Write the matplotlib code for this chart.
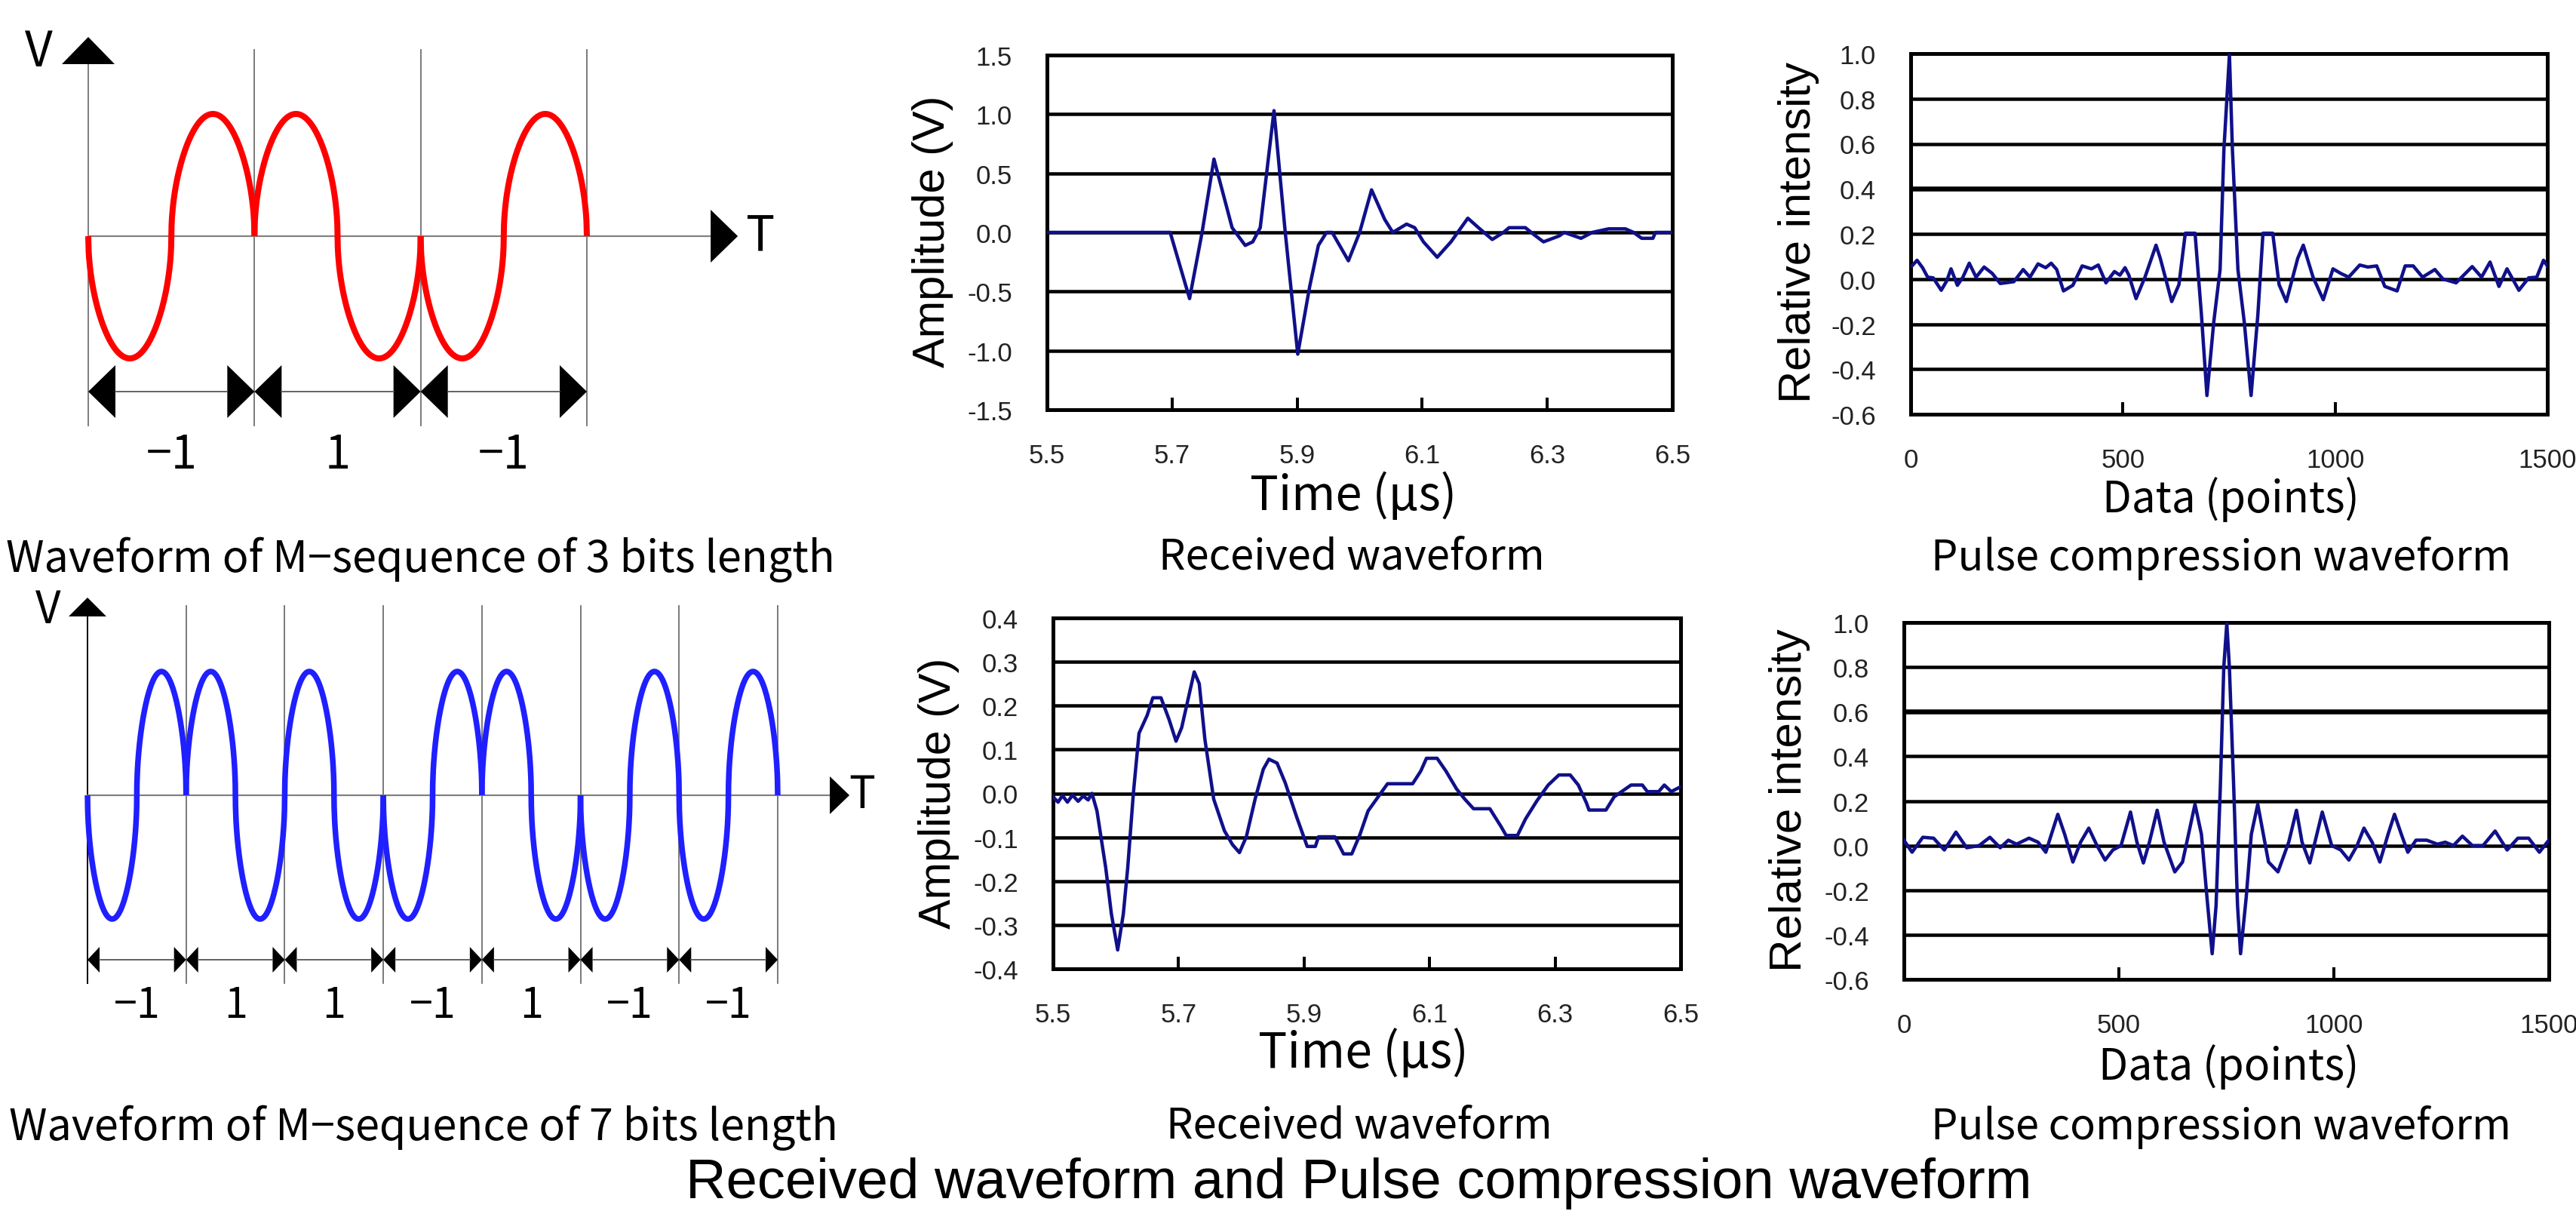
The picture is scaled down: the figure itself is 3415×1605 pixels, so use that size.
import numpy as np
import matplotlib
matplotlib.use("Agg")
import matplotlib.pyplot as plt
from matplotlib.patches import Polygon
from matplotlib.ticker import FixedLocator, FixedFormatter

# ---------------- data ----------------
bits3 = [-1, 1, -1]
bits7 = [-1, 1, 1, -1, 1, -1, -1]

# Received waveform, 3-bit (time in us, amplitude in V)
rx3_t = [5.50, 5.697, 5.728, 5.748, 5.767, 5.796, 5.817, 5.829, 5.841, 5.863, 5.881,
         5.901, 5.920, 5.934, 5.947, 5.956, 5.982, 6.000, 6.019, 6.040, 6.053, 6.075,
         6.088, 6.102, 6.124, 6.146, 6.173, 6.190, 6.212, 6.230, 6.239, 6.265, 6.279,
         6.294, 6.319, 6.327, 6.354, 6.372, 6.398, 6.425, 6.438, 6.451, 6.469, 6.473, 6.50]
rx3_v = [0.0, 0.0, -0.56, 0.0, 0.62, 0.04, -0.11, -0.08, 0.04, 1.03, 0.0,
         -1.03, -0.46, -0.11, 0.0, 0.0, -0.24, 0.0, 0.36, 0.11, 0.0, 0.07,
         0.04, -0.08, -0.21, -0.08, 0.12, 0.04, -0.06, 0.0, 0.04, 0.04, -0.02,
         -0.08, -0.03, 0.0, -0.05, 0.0, 0.03, 0.03, 0.0, -0.05, -0.05, 0.0, 0.0]

# Received waveform, 7-bit
rx7_t = [5.500, 5.508, 5.515, 5.523, 5.531, 5.540, 5.548, 5.556, 5.562, 5.570, 5.584,
         5.593, 5.603, 5.612, 5.619, 5.628, 5.637, 5.650, 5.659, 5.672, 5.685, 5.696,
         5.705, 5.725, 5.733, 5.742, 5.756, 5.773, 5.786, 5.797, 5.808, 5.822, 5.835,
         5.844, 5.857, 5.870, 5.888, 5.905, 5.918, 5.923, 5.949, 5.963, 5.976, 5.989,
         6.002, 6.020, 6.033, 6.073, 6.086, 6.095, 6.112, 6.126, 6.143, 6.156, 6.170,
         6.196, 6.214, 6.222, 6.240, 6.253, 6.271, 6.289, 6.306, 6.324, 6.337, 6.350,
         6.354, 6.381, 6.394, 6.407, 6.421, 6.439, 6.447, 6.465, 6.474, 6.485, 6.500]
rx7_v = [-0.008, -0.02, -0.005, -0.02, -0.004, -0.018, -0.006, -0.015, 0.0, -0.04, -0.17,
         -0.275, -0.357, -0.275, -0.17, 0.0, 0.137, 0.178, 0.218, 0.218, 0.168, 0.119,
         0.150, 0.277, 0.25, 0.123, -0.013, -0.085, -0.117, -0.135, -0.099, -0.013, 0.055,
         0.078, 0.069, 0.024, -0.053, -0.121, -0.121, -0.099, -0.099, -0.138, -0.138, -0.094,
         -0.04, -0.004, 0.022, 0.022, 0.051, 0.080, 0.080, 0.051, 0.01, -0.013, -0.035,
         -0.035, -0.076, -0.096, -0.096, -0.058, -0.017, 0.019, 0.042, 0.042, 0.019, -0.022,
         -0.038, -0.038, -0.008, 0.005, 0.019, 0.019, 0.004, 0.004, 0.019, 0.004, 0.015]

# Pulse compression waveform, 3-bit (data points, relative intensity)
pc3_x = [3, 15, 28, 40, 53, 72, 85, 95, 110, 123, 138, 154, 173, 192, 211, 243, 265, 281,
         300, 318, 331, 344, 360, 382, 404, 426, 442, 460, 480, 493, 505, 514, 531, 552,
         578, 588, 615, 632, 647, 670, 685, 698, 714, 729, 738, 751, 758, 771, 786, 802,
         818, 830, 853, 868, 885, 912, 925, 948, 972, 995, 1013, 1032, 1058, 1077, 1098,
         1117, 1146, 1165, 1184, 1206, 1235, 1254, 1285, 1323, 1345, 1365, 1386, 1405,
         1433, 1456, 1475, 1491, 1500]
pc3_v = [0.058, 0.083, 0.05, 0.008, 0.005, -0.05, -0.008, 0.045, -0.028, 0.008, 0.07, 0.008,
         0.053, 0.025, -0.02, -0.012, 0.042, 0.008, 0.067, 0.05, 0.07, 0.042, -0.053, -0.028,
         0.058, 0.045, 0.062, -0.017, 0.033, 0.017, 0.05, 0.017, -0.087, 0.008, 0.15, 0.092,
         -0.1, -0.025, 0.203, 0.203, -0.158, -0.517, -0.192, 0.042, 0.575, 0.995, 0.575,
         0.042, -0.192, -0.517, -0.158, 0.203, 0.203, -0.025, -0.1, 0.092, 0.15, 0.008,
         -0.092, 0.045, 0.025, 0.008, 0.062, 0.053, 0.058, -0.033, -0.053, 0.058, 0.058,
         0.008, 0.042, 0.0, -0.017, 0.055, 0.008, 0.075, -0.033, 0.045, -0.05, 0.005, 0.008,
         0.083, 0.058]

# Pulse compression waveform, 7-bit
pc7_x = [0, 19, 44, 69, 94, 121, 146, 175, 200, 224, 243, 262, 291, 312, 330, 343, 358,
         374, 393, 411, 430, 449, 468, 486, 505, 527, 542, 557, 571, 589, 605, 630, 648,
         677, 692, 705, 717, 726, 736, 744, 751, 757, 767, 776, 783, 796, 808, 823, 848,
         870, 895, 913, 926, 944, 956, 973, 995, 1016, 1035, 1054, 1070, 1089, 1107, 1126,
         1141, 1157, 1172, 1191, 1216, 1241, 1259, 1278, 1299, 1322, 1347, 1375, 1403,
         1428, 1453, 1478, 1500]
pc7_v = [0.024, -0.03, 0.037, 0.033, -0.02, 0.06, -0.01, 0.0, 0.037, -0.01, 0.024, 0.006,
         0.033, 0.015, -0.03, 0.05, 0.14, 0.05, -0.074, 0.015, 0.078, 0.0, -0.065, -0.02,
         0.0, 0.15, 0.015, -0.078, 0.015, 0.158, 0.015, -0.118, -0.074, 0.185, 0.05, -0.235,
         -0.485, -0.27, 0.265, 0.8, 0.996, 0.8, 0.265, -0.27, -0.485, -0.235, 0.05, 0.185,
         -0.074, -0.118, 0.015, 0.158, 0.015, -0.078, 0.015, 0.15, 0.0, -0.02, -0.065, 0.0,
         0.078, 0.015, -0.074, 0.05, 0.14, 0.05, -0.03, 0.024, 0.024, 0.006, 0.015, 0.0,
         0.042, 0.0, 0.0, 0.065, -0.02, 0.033, 0.033, -0.03, 0.024]

time_ticks = [5.5, 5.7, 5.9, 6.1, 6.3, 6.5]
time_labels = ["5.5", "5.7", "5.9", "6.1", "6.3", "6.5"]
amp3_ticks = [-1.5, -1.0, -0.5, 0.0, 0.5, 1.0, 1.5]
amp3_labels = ["-1.5", "-1.0", "-0.5", "0.0", "0.5", "1.0", "1.5"]
amp7_ticks = [-0.4, -0.3, -0.2, -0.1, 0.0, 0.1, 0.2, 0.3, 0.4]
amp7_labels = ["-0.4", "-0.3", "-0.2", "-0.1", "0.0", "0.1", "0.2", "0.3", "0.4"]
pts_ticks = [0, 500, 1000, 1500]
pts_labels = ["0", "500", "1000", "1500"]
rel_ticks = [-0.6, -0.4, -0.2, 0.0, 0.2, 0.4, 0.6, 0.8, 1.0]
rel_labels = ["-0.6", "-0.4", "-0.2", "0.0", "0.2", "0.4", "0.6", "0.8", "1.0"]

# ---------------- figure ----------------
W, H = 3415, 1606
DPI = 100
fig = plt.figure(figsize=(W / DPI, H / DPI), dpi=DPI)
fig.patch.set_facecolor("white")

GOTHIC = ["Noto Sans CJK JP", "DejaVu Sans"]
ARIAL = ["Liberation Sans", "DejaVu Sans"]
PX = 72.0 / DPI  # points per pixel


def rect(x0, y0, x1, y1):
    return [x0 / W, 1 - y1 / H, (x1 - x0) / W, (y1 - y0) / H]


def ftext(x, y, s, **kw):
    return fig.text(x / W, 1 - y / H, s, **kw)


renderer = fig.canvas.get_renderer()


def fit(t, target, vertical=False):
    bb = t.get_window_extent(renderer)
    cur = bb.height if vertical else bb.width
    t.set_fontsize(t.get_fontsize() * target / cur)


# ---------- schematic M-sequence diagrams ----------
def diagram(box, bits, color, lw, tri_w, tri_h, arr_hw, t_len, t_tip, v_base, v_tip,
            vline_top, vline_bot, dim_y, lab_y, lab_size, v_pos, t_pos, vt_size, vaxis_color):
    ax = fig.add_axes(rect(*box))
    n = len(bits)
    ax.set_xlim(0, n)
    ax.set_ylim(-1, 1)
    ax.axis("off")
    sx = (box[2] - box[0]) / n
    sy = (box[3] - box[1]) / 2.0
    u = np.linspace(0, 1, 400)
    s = np.sin(2 * np.pi * u)
    shape = np.sign(s) * np.abs(s) ** 0.5
    # vertical boundary lines
    for i in range(1, n + 1):
        ax.plot([i, i], [vline_top, vline_bot], color="#6e6e6e", lw=1.8 * PX,
                clip_on=False, zorder=1)
    # V axis
    ax.plot([0, 0], [v_base, vline_bot], color=vaxis_color, lw=2.0 * PX, clip_on=False, zorder=1)
    ax.add_patch(Polygon([[-arr_hw / sx, v_base], [arr_hw / sx, v_base], [0, v_tip]],
                         closed=True, fc="black", ec="none", clip_on=False))
    # T axis
    ax.plot([0, t_len], [0, 0], color="#808080", lw=2.2 * PX, clip_on=False, zorder=1)
    ax.add_patch(Polygon([[t_len, arr_hw / sy], [t_len, -arr_hw / sy], [t_tip, 0]],
                         closed=True, fc="black", ec="none", clip_on=False))
    # waveform
    for i, b in enumerate(bits):
        ax.plot(i + u, b * shape, color=color, lw=lw, clip_on=False, zorder=3,
                solid_capstyle="butt")
    # dimension arrows
    tw = tri_w / sx
    th = tri_h / 2.0 / sy
    for i, b in enumerate(bits):
        ax.plot([i + tw, i + 1 - tw], [dim_y, dim_y], color="#555555", lw=1.8 * PX, clip_on=False)
        ax.add_patch(Polygon([[i, dim_y], [i + tw, dim_y + th], [i + tw, dim_y - th]],
                             closed=True, fc="black", ec="none", clip_on=False))
        ax.add_patch(Polygon([[i + 1, dim_y], [i + 1 - tw, dim_y + th], [i + 1 - tw, dim_y - th]],
                             closed=True, fc="black", ec="none", clip_on=False))
        lab = "\u22121" if b < 0 else "1"
        ax.text(i + 0.5, lab_y, lab, ha="center", va="center", fontsize=lab_size,
                family=GOTHIC, clip_on=False)
    ftext(v_pos[0], v_pos[1], "V", ha="center", va="center", fontsize=vt_size, family=GOTHIC)
    ftext(t_pos[0], t_pos[1], "T", ha="center", va="center", fontsize=vt_size, family=GOTHIC)
    return ax


# 3-bit: x [0,3] -> px 117..778, y [-1,1] -> px 476..152 (zero at 314)
diagram((117, 152, 778, 476), bits3, "#ff0000", 8.0 * PX, 36, 70, 35,
        t_len=(942 - 117) / 220.3, t_tip=(978 - 117) / 220.3,
        v_base=(314 - 86) / 162.0, v_tip=(314 - 50) / 162.0,
        vline_top=(314 - 67) / 162.0, vline_bot=(314 - 565) / 162.0,
        dim_y=(314 - 520) / 162.0, lab_y=(314 - 604) / 162.0, lab_size=44,
        v_pos=(51, 70), t_pos=(1008, 314), vt_size=46, vaxis_color="#808080")

# 7-bit: x [0,7] -> px 116..1031, y [-1,1] -> px 1219..891 (zero at 1055)
diagram((116, 891, 1031, 1219), bits7, "#1f1fff", 7.5 * PX, 16, 34, 25,
        t_len=(1100 - 116) / 130.7, t_tip=(1126 - 116) / 130.7,
        v_base=(1055 - 818) / 164.0, v_tip=(1055 - 793) / 164.0,
        vline_top=(1055 - 804) / 164.0, vline_bot=(1055 - 1304) / 164.0,
        dim_y=(1055 - 1273) / 164.0, lab_y=(1055 - 1333) / 164.0, lab_size=40,
        v_pos=(64, 810), t_pos=(1143, 1055), vt_size=42, vaxis_color="black")


# ---------- measured-data charts ----------
def chart(box, x, y, xticks, xlabels, yticks, ylabels):
    ax = fig.add_axes(rect(*box))
    ax.plot(x, y, color="#10108a", lw=4.5 * PX, zorder=4, clip_on=True,
            solid_joinstyle="round")
    ax.set_xlim(xticks[0], xticks[-1])
    ax.set_ylim(yticks[0], yticks[-1])
    ax.xaxis.set_major_locator(FixedLocator(xticks))
    ax.xaxis.set_major_formatter(FixedFormatter(xlabels))
    ax.yaxis.set_major_locator(FixedLocator(yticks))
    ax.yaxis.set_major_formatter(FixedFormatter(ylabels))
    ax.yaxis.grid(True, color="black", lw=4.5 * PX, zorder=1)
    ax.set_axisbelow(True)
    for sp in ax.spines.values():
        sp.set_linewidth(5.0 * PX)
        sp.set_color("black")
    ax.tick_params(axis="x", direction="in", length=16 * PX, width=4.0 * PX, pad=44 * PX,
                   labelsize=25, labelcolor="#222222")
    ax.tick_params(axis="y", length=0, pad=46 * PX, labelsize=25, labelcolor="#222222")
    for lab in ax.get_xticklabels() + ax.get_yticklabels():
        lab.set_family(ARIAL)
    return ax


chart((1388, 74, 2217, 544), rx3_t, rx3_v, time_ticks, time_labels, amp3_ticks, amp3_labels)
ax_tr = chart((2533, 72, 3377, 550), pc3_x, pc3_v, pts_ticks, pts_labels, rel_ticks, rel_labels)
chart((1396, 820, 2228, 1285), rx7_t, rx7_v, time_ticks, time_labels, amp7_ticks, amp7_labels)
ax_br = chart((2524, 826, 3379, 1299), pc7_x, pc7_v, pts_ticks, pts_labels, rel_ticks, rel_labels)
# slightly heavier gridline seen in the reference
ax_tr.get_ygridlines()[5].set_linewidth(6.5 * PX)
ax_br.get_ygridlines()[6].set_linewidth(6.5 * PX)

# ---------- axis labels ----------
t = ftext(1236, 307, "Amplitude (V)", rotation=90, ha="center", va="center", fontsize=42, family=ARIAL)
fit(t, 360, vertical=True)
t = ftext(1245, 1051, "Amplitude (V)", rotation=90, ha="center", va="center", fontsize=42, family=ARIAL)
fit(t, 359, vertical=True)
t = ftext(2384, 308, "Relative intensity", rotation=90, ha="center", va="center", fontsize=42, family=ARIAL)
fit(t, 453, vertical=True)
t = ftext(2373, 1061, "Relative intensity", rotation=90, ha="center", va="center", fontsize=42, family=ARIAL)
fit(t, 456, vertical=True)

t = ftext(1794, 676, "Time (\u03bcs)", ha="center", va="baseline", fontsize=36, family=GOTHIC)
fit(t, 275)
t = ftext(1807, 1415, "Time (\u03bcs)", ha="center", va="baseline", fontsize=36, family=GOTHIC)
fit(t, 279)
t = ftext(2957, 679, "Data (points)", ha="center", va="baseline", fontsize=36, family=GOTHIC)
fit(t, 341)
t = ftext(2955, 1431, "Data (points)", ha="center", va="baseline", fontsize=36, family=GOTHIC)
fit(t, 345)

# ---------- captions ----------
t = ftext(557, 758, "Waveform of M\u2212sequence of 3 bits length", ha="center", va="baseline",
          fontsize=40, family=GOTHIC)
fit(t, 1100)
t = ftext(561, 1511, "Waveform of M\u2212sequence of 7 bits length", ha="center", va="baseline",
          fontsize=40, family=GOTHIC)
fit(t, 1100)
t = ftext(1792, 755, "Received waveform", ha="center", va="baseline", fontsize=34, family=GOTHIC)
fit(t, 513)
t = ftext(1802, 1509, "Received waveform", ha="center", va="baseline", fontsize=34, family=GOTHIC)
fit(t, 513)
t = ftext(2945, 756, "Pulse compression waveform", ha="center", va="baseline", fontsize=34, family=GOTHIC)
fit(t, 770)
t = ftext(2945, 1510, "Pulse compression waveform", ha="center", va="baseline", fontsize=34, family=GOTHIC)
fit(t, 770)

# ---------- main title ----------
t = ftext(1801, 1588, "Received waveform and Pulse compression waveform", ha="center",
          va="baseline", fontsize=54, family=ARIAL)
fit(t, 1782)

fig.savefig("out.png", dpi=DPI, facecolor="white")
